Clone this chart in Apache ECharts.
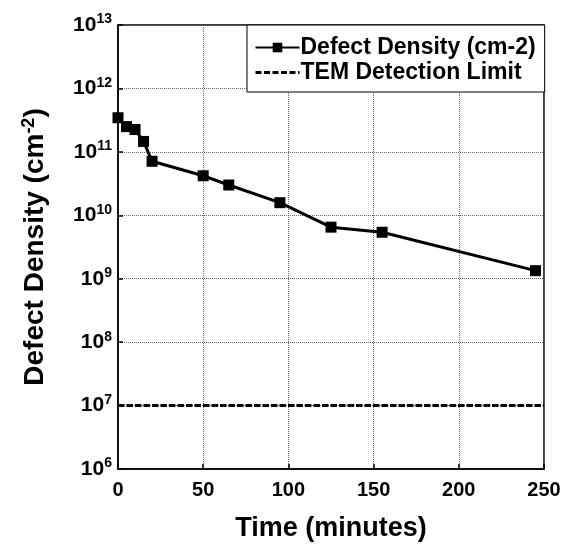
<!DOCTYPE html>
<html>
<head>
<meta charset="utf-8">
<script src="https://cdn.jsdelivr.net/npm/echarts@6/dist/echarts.min.js"></script>
<style>
  html, body { margin: 0; padding: 0; background: #fff; }
  #chart { width: 572px; height: 547px; }
</style>
</head>
<body>
<div id="chart"></div>
<script>
// time in minutes
const times = [0, 5, 10, 15, 20, 50, 65, 95, 125, 155, 245];
// defect density (cm-2)
const density = [3.45e11, 2.5e11, 2.25e11, 1.46e11, 7.1e10, 4.2e10, 3.0e10, 1.58e10, 6.5e9, 5.4e9, 1.34e9];
const limitX = [0, 250];
const limitY = [1e7, 1e7];
const xTicks = [0, 50, 100, 150, 200, 250];

const font = '"Liberation Sans", Arial, sans-serif';

const myChart = echarts.init(document.getElementById('chart'));
const option = {
  animation: false,
  textStyle: { fontFamily: font },
  grid: {
    left: 118,
    right: 28,
    top: 25,
    bottom: 72,
    show: true,
    borderColor: '#000',
    borderWidth: 1.5,
    containLabel: false,
  },
  legend: {
    orient: 'vertical',
    left: 247,
    top: 25,
    padding: [10, 9, 7, 7],
    itemGap: 0,
    itemWidth: 44,
    itemHeight: 12,
    backgroundColor: '#fff',
    borderColor: '#000',
    borderWidth: 1,
    textStyle: {
      fontFamily: font, fontWeight: 'bold', fontSize: 23, color: '#000',
      lineHeight: 25, padding: [0, 0, 0, -4],
    },
    data: [
      { name: 'Defect Density (cm-2)' },
      { name: 'TEM Detection Limit', itemStyle: { opacity: 0 }, lineStyle: { width: 3, type: [6, 2.5] } },
    ],
  },
  xAxis: {
    type: 'value',
    min: 0,
    max: 250,
    interval: 50,
    name: 'Time (minutes)',
    nameLocation: 'middle',
    nameGap: 46,
    nameTextStyle: { fontFamily: font, fontWeight: 'bold', fontSize: 27, color: '#000' },
    axisLine: { lineStyle: { color: '#000', width: 1.5 } },
    axisTick: { inside: true, length: 5, lineStyle: { color: '#000', width: 1.5 } },
    axisLabel: {
      margin: 11,
      fontFamily: font, fontWeight: 'bold', fontSize: 20, color: '#000',
      formatter: v => (xTicks.includes(v) ? String(v) : ''),
    },
    splitLine: { show: true, lineStyle: { color: '#666', type: 'dotted', width: 1 } },
  },
  yAxis: {
    type: 'log',
    logBase: 10,
    min: 1e6,
    max: 1e13,
    name: '{b|Defect Density (cm}{s|-2}{b|)}',
    nameLocation: 'middle',
    nameGap: 68,
    nameRotate: 90,
    nameTextStyle: {
      rich: {
        b: { fontFamily: font, fontWeight: 'bold', fontSize: 28, color: '#000' },
        s: { fontFamily: font, fontWeight: 'bold', fontSize: 18, color: '#000', verticalAlign: 'bottom', padding: [0, 0, 12, 0] },
      },
    },
    axisLine: { lineStyle: { color: '#000', width: 1.5 } },
    axisTick: { inside: true, length: 5, lineStyle: { color: '#000', width: 1.5 } },
    axisLabel: {
      margin: 6,
      formatter: v => '{b|10}{s|' + Math.round(Math.log10(v)) + '}',
      rich: {
        b: { fontFamily: font, fontWeight: 'bold', fontSize: 21, color: '#000' },
        s: { fontFamily: font, fontWeight: 'bold', fontSize: 14, color: '#000', verticalAlign: 'bottom', padding: [0, 0, 11, 0] },
      },
    },
    splitLine: { show: true, lineStyle: { color: '#666', type: 'dotted', width: 1 } },
  },
  series: [
    {
      name: 'Defect Density (cm-2)',
      type: 'line',
      data: times.map((t, i) => [t, density[i]]),
      symbol: 'rect',
      symbolSize: 11,
      itemStyle: { color: '#000' },
      lineStyle: { color: '#000', width: 3 },
      z: 5,
    },
    {
      name: 'TEM Detection Limit',
      type: 'line',
      data: limitX.map((t, i) => [t, limitY[i]]),
      symbol: 'none',
      itemStyle: { color: '#000' },
      lineStyle: { color: '#000', width: 3, type: [6.5, 2] },
      z: 4,
    },
  ],
};
myChart.setOption(option);
</script>
</body>
</html>
